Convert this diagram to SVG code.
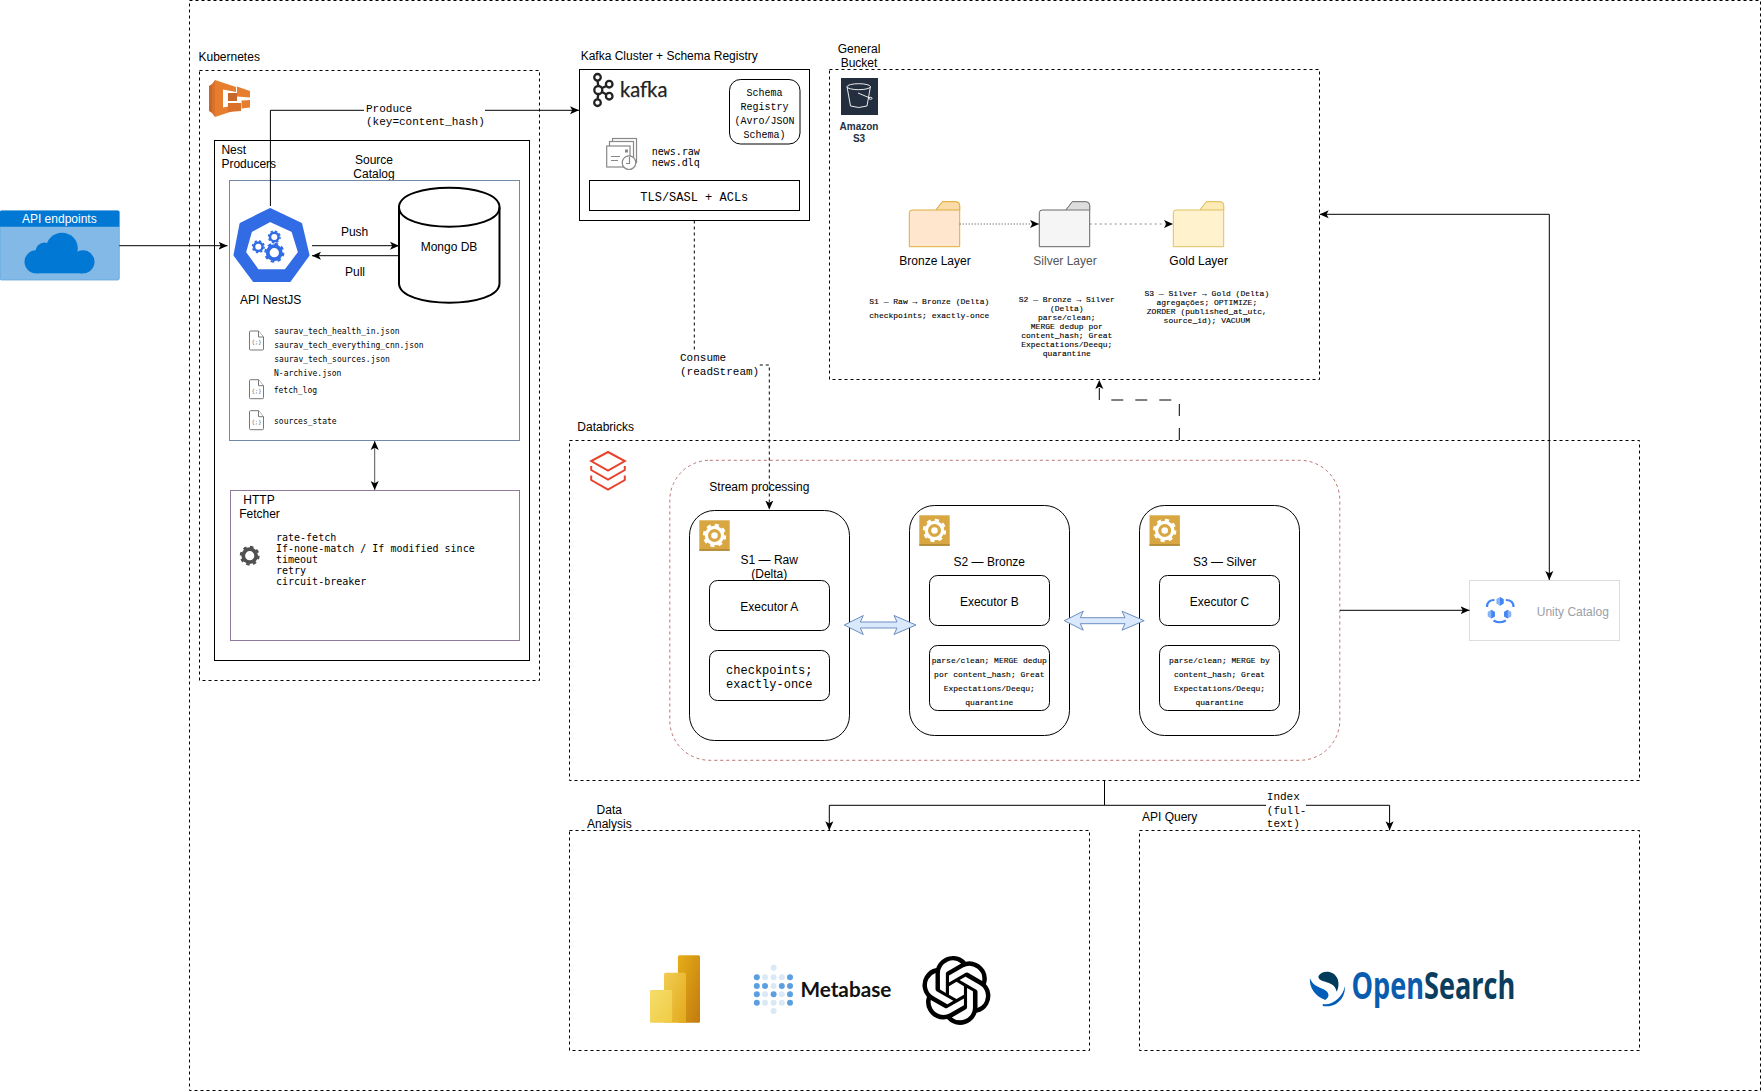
<svg xmlns="http://www.w3.org/2000/svg" xmlns:xlink="http://www.w3.org/1999/xlink" width="1761" height="1091" viewBox="0 0 1761 1091">
<style>
text{fill:#000;font-family:"Liberation Sans",Arial,sans-serif;font-size:12px}
.c{text-anchor:middle}
.m{font-family:"Liberation Mono","Courier New",monospace}
.m8{font-family:"Liberation Mono","Courier New",monospace;font-size:8px;stroke:#000;stroke-width:.12}
.m11{font-family:"Liberation Mono","Courier New",monospace;font-size:11px}
.d8{font-family:"DejaVu Sans Mono",monospace;font-size:8px}
.d10{font-family:"DejaVu Sans Mono",monospace;font-size:10px}
.b{fill:#fff;stroke:#000;stroke-width:1}
.box{fill:none;stroke:#000;stroke-width:1}
.dash{fill:none;stroke:#000;stroke-width:1;stroke-dasharray:3 3}
.l{fill:none;stroke:#000;stroke-width:1}
.la{fill:none;stroke:#000;stroke-width:1;marker-end:url(#a)}
.lb{fill:none;stroke:#000;stroke-width:1;marker-start:url(#as);marker-end:url(#a)}
.flex{fill:#dae8fc;stroke:#6c8ebf;stroke-width:1}
.file{fill:#fff;stroke:#777;stroke-width:1}
.gold{fill:#d9a741}
</style>
<defs>
<marker id="a" viewBox="0 0 10 10" refX="10" refY="5" markerWidth="9" markerHeight="9" markerUnits="userSpaceOnUse" orient="auto"><path d="M0 .5 10 5 0 9.5 2.5 5Z" fill="#000"/></marker>
<marker id="as" viewBox="0 0 10 10" refX="10" refY="5" markerWidth="9" markerHeight="9" markerUnits="userSpaceOnUse" orient="auto-start-reverse"><path d="M0 .5 10 5 0 9.5 2.5 5Z" fill="#000"/></marker>
<linearGradient id="p1" x1="0" x2="1" y1="0" y2="1"><stop offset="0" stop-color="#f5dc6a"/><stop offset="1" stop-color="#f0cc45"/></linearGradient>
<linearGradient id="p2" x1="0" x2="1" y1="0" y2="1"><stop offset="0" stop-color="#f1cd52"/><stop offset="1" stop-color="#e2a91c"/></linearGradient>
<linearGradient id="p3" x1="0" x2="1" y1="0" y2="1"><stop offset="0" stop-color="#e6ae17"/><stop offset="1" stop-color="#c27a10"/></linearGradient>
<g id="gear"><circle r="7.6" fill="none" stroke="currentColor" stroke-width="4.4"/><circle r="10.4" fill="none" stroke="currentColor" stroke-width="2.6" stroke-dasharray="4.08 4.09"/></g>
<g id="goldgear"><rect x="-15.2" y="-15.2" width="30.4" height="30.4" class="gold"/><rect x="-15.2" y="13.8" width="30.4" height="1.4" fill="#a9812f"/><circle r="9.8" fill="#fff"/><circle r="10.4" fill="none" stroke="#fff" stroke-width="2.6" stroke-dasharray="4.08 4.09"/><circle r="4.9" fill="#fff" stroke="#d9a741" stroke-width="3.2"/></g>
<g id="file"><path class="file" d="M1 1H9L14 7V19Q14 20 13 20H1Q0 20 0 19V2Q0 1 1 1Z"/><path class="file" d="M9 1V7H14"/><text x="7" y="14" class="c" style="font-family:'DejaVu Sans Mono',monospace;font-size:5.5px;fill:#666">{;}</text></g>
</defs>
<rect width="1761" height="1091" fill="#fff"/>

<rect id="outer" class="dash" x="189.5" y=".5" width="1571" height="1090"/>

<g id="api-endpoints">
<rect x="0" y="210.7" width="119.3" height="69.3" rx="1.5" fill="#83b9e6" stroke="#5ea6e0" stroke-width=".8"/>
<path d="M0 212Q0 210.7 1.5 210.7H117.8Q119.3 210.7 119.3 212V226.7H0Z" fill="#0078d4"/>
<g fill="#0078d4"><circle cx="36" cy="261.8" r="11.5"/><circle cx="44.5" cy="251.5" r="9"/><circle cx="62" cy="248.5" r="15.8"/><circle cx="83" cy="261.8" r="11.5"/><rect x="36" y="252" width="47" height="21.3"/></g>
<text x="59.3" y="222.8" class="c" style="fill:#fff">API endpoints</text>
</g>

<g id="kubernetes">
<text x="198.5" y="61">Kubernetes</text>
<rect class="dash" x="199.5" y="70.5" width="340" height="610"/>
<g>
<path d="M209 86 212 84V113L209 111Z" fill="#c7682a"/>
<path d="M212 84 215 80V117L212 113Z" fill="#d9702c"/>
<path d="M215 80 236 87V92L223 89.5V107.5L236 105V110L215 117Z" fill="#e67e2e"/>
<path d="M237 86.5 250 91V97.5L237 96.5Z" fill="#e67e2e"/>
<rect x="228" y="93" width="9" height="8" fill="#c7682a"/>
<path d="M228 103H241V111L228 112Z" fill="#d9702c"/>
<path d="M241.5 100.5 250 100V107.5L241.5 108.5Z" fill="#e67e2e"/>
</g>
</g>

<g id="nest-producers">
<rect class="box" x="214.5" y="140.5" width="315" height="520"/>
<text x="221.4" y="154">Nest</text>
<text x="221.4" y="168">Producers</text>
</g>

<g id="source-catalog">
<text x="374" y="164" class="c">Source</text>
<text x="374" y="178" class="c">Catalog</text>
<rect x="229.5" y="180.5" width="290" height="260" fill="none" stroke="#7189a8" stroke-width="1"/>
<use xlink:href="#file" href="#file" x="249.5" y="330"/>
<use xlink:href="#file" href="#file" x="249.5" y="378.7"/>
<use xlink:href="#file" href="#file" x="249.5" y="409.7"/>
<text x="274.3" y="333.5" class="d8">saurav_tech_health_in.json</text>
<text x="274.3" y="347.5" class="d8">saurav_tech_everything_cnn.json</text>
<text x="274.3" y="361.5" class="d8">saurav_tech_sources.json</text>
<text x="274" y="375.5" class="d8">N-archive.json</text>
<text x="273.7" y="392.8" class="d8">fetch_log</text>
<text x="274" y="424" class="d8">sources_state</text>
</g>

<g id="api-nestjs">
<path d="M270.2 209.5 300.7 224 308 255 289.5 280.5H254L235 255 241 224Z" fill="#326ce5" stroke="#326ce5" stroke-width="3" stroke-linejoin="round"/>
<path d="M270.2 223 291 232.5 297 252 284.5 268.5H258.8L247 252 252.5 232.5Z" fill="#fff" stroke="#fff" stroke-width="1.5" stroke-linejoin="round"/>
<g color="#326ce5">
<use xlink:href="#gear" href="#gear" transform="translate(258.3 246.7) scale(.56)"/>
<use xlink:href="#gear" href="#gear" transform="translate(274.3 236.9) scale(.56)"/>
<use xlink:href="#gear" href="#gear" transform="translate(274.3 252.7) scale(.86)"/>
</g>
<text x="270.7" y="304" class="c">API NestJS</text>
</g>

<g id="mongo-db">
<path d="M399 207.2C399 181.2 499.5 181.2 499.5 207.2V283.2C499.5 309.2 399 309.2 399 283.2Z" fill="#fff" stroke="#000" stroke-width="2"/>
<path d="M399 207.2C399 233.2 499.5 233.2 499.5 207.2" fill="none" stroke="#000" stroke-width="2"/>
<text x="449" y="251" class="c">Mongo DB</text>
</g>

<g id="http-fetcher">
<rect x="230.5" y="490.5" width="289" height="150" fill="none" stroke="#8f7a9c" stroke-width="1"/>
<text x="259" y="504" class="c">HTTP</text>
<text x="259.5" y="518" class="c">Fetcher</text>
<g color="#505050"><use xlink:href="#gear" href="#gear" transform="translate(249.7 555.7) scale(.85)"/></g>
<text x="276" y="540.5" class="d10">rate-fetch</text>
<text x="276" y="551.5" class="d10">If-none-match / If modified since</text>
<text x="276" y="562.5" class="d10">timeout</text>
<text x="276" y="573.5" class="d10">retry</text>
<text x="276" y="584.5" class="d10">circuit-breaker</text>
</g>

<g id="kafka-cluster">
<text x="580.7" y="60">Kafka Cluster + Schema Registry</text>
<rect class="box" x="579.5" y="69.5" width="230" height="151"/>
<g fill="none" stroke="#222" stroke-width="2.3">
<path d="M597.5 80.5 598.3 86M597.5 99.5 598.3 94M602 88 606.5 86M602 92 606.5 94.5"/>
<circle cx="597.5" cy="77.3" r="3.3"/><circle cx="598.3" cy="90" r="4"/><circle cx="597.5" cy="102.7" r="3.3"/><circle cx="609.2" cy="84.2" r="3.3"/><circle cx="609.2" cy="96.2" r="3.3"/>
</g>
<text x="620" y="96.5" textLength="47.5" lengthAdjust="spacingAndGlyphs" style="font-family:Lato,'Noto Sans',sans-serif;font-size:21.5px;fill:#222;stroke:#222;stroke-width:.25">kafka</text>
<g fill="#fff" stroke="#888" stroke-width="1.2">
<rect x="612.5" y="138.5" width="24" height="24"/><rect x="609.5" y="141.5" width="24" height="24"/><rect x="606.7" y="146" width="23.3" height="21"/>
<path d="M611 156.5H620M611 160.5H618" fill="none"/><rect x="625" y="149.5" width="3" height="3" fill="#888" stroke="none"/>
<circle cx="629" cy="162.7" r="6.8"/><path d="M629.5 157V163.5H626" fill="none"/>
</g>
<text x="651.7" y="155" class="d10">news.raw</text>
<text x="651.7" y="166" class="d10">news.dlq</text>
<rect class="b" x="729.5" y="79.5" width="70.5" height="64.5" rx="11"/>
<text x="764.5" y="95.5" class="c m" style="font-size:10px">Schema</text>
<text x="764.5" y="109.5" class="c m" style="font-size:10px">Registry</text>
<text x="764.5" y="123.5" class="c m" style="font-size:10px">(Avro/JSON</text>
<text x="764.5" y="137.5" class="c m" style="font-size:10px">Schema)</text>
<rect class="b" x="589.5" y="180.5" width="210" height="30"/>
<text x="694.3" y="201" class="c m">TLS/SASL + ACLs</text>
</g>

<g id="general-bucket">
<text x="859" y="53" class="c">General</text>
<text x="859" y="67" class="c">Bucket</text>
<rect class="dash" x="829.5" y="69.5" width="490" height="310"/>
<rect x="841" y="78" width="37" height="37" fill="#232f3e"/>
<g fill="none" stroke="#fff" stroke-width=".9"><ellipse cx="858.7" cy="86.7" rx="11.7" ry="3"/><path d="M847 86.7 850.5 106Q858.7 109 867 106L870.4 86.7"/><path d="M858 93 870 98"/><ellipse cx="870.5" cy="98.3" rx="1.6" ry="1"/></g>
<text x="859" y="130" class="c" style="font-size:10px;font-weight:700;fill:#232f3e">Amazon</text>
<text x="859" y="142" class="c" style="font-size:10px;font-weight:700;fill:#232f3e">S3</text>
</g>

<g id="bronze-layer">
<path transform="translate(909.3 201.7)" d="M0 11Q0 8.3 3 8.3H26.7L33 0H46.5Q50.4 0 50.4 4V45H0Z" fill="#ffe6cc" stroke="#dcae3c" stroke-width="1"/>
<path transform="translate(909.3 201.7)" d="M26.7 8.3H50.4V4Q50.4 0 46.5 0H33Z" fill="#fbdca8" stroke="#dcae3c" stroke-width="1"/>
<text x="935" y="264.7" class="c">Bronze Layer</text>
<text x="929.3" y="303.8" class="c m8">S1 — Raw → Bronze (Delta)</text>
<text x="929.3" y="317.8" class="c m8">checkpoints; exactly-once</text>
</g>

<g id="silver-layer">
<path transform="translate(1039.3 201.7)" d="M0 11Q0 8.3 3 8.3H26.7L33 0H46.5Q50.4 0 50.4 4V45H0Z" fill="#f5f5f5" stroke="#666" stroke-width="1"/>
<path transform="translate(1039.3 201.7)" d="M26.7 8.3H50.4V4Q50.4 0 46.5 0H33Z" fill="#ddd" stroke="#777" stroke-width="1"/>
<text x="1065" y="264.7" class="c" style="fill:#555">Silver Layer</text>
<text x="1066.8" y="301.5" class="c m8">S2 — Bronze → Silver</text>
<text x="1066.8" y="310.5" class="c m8">(Delta)</text>
<text x="1066.8" y="319.5" class="c m8">parse/clean;</text>
<text x="1066.8" y="328.5" class="c m8">MERGE dedup por</text>
<text x="1066.8" y="337.5" class="c m8">content_hash; Great</text>
<text x="1066.8" y="346.5" class="c m8">Expectations/Deequ;</text>
<text x="1066.8" y="355.5" class="c m8">quarantine</text>
</g>

<g id="gold-layer">
<path transform="translate(1173.3 201.7)" d="M0 11Q0 8.3 3 8.3H26.7L33 0H46.5Q50.4 0 50.4 4V45H0Z" fill="#fff2cc" stroke="#e0c060" stroke-width="1"/>
<path transform="translate(1173.3 201.7)" d="M26.7 8.3H50.4V4Q50.4 0 46.5 0H33Z" fill="#fdeab4" stroke="#e0c060" stroke-width="1"/>
<text x="1198.7" y="264.7" class="c">Gold Layer</text>
<text x="1206.8" y="296" class="c m8">S3 — Silver → Gold (Delta)</text>
<text x="1206.8" y="305" class="c m8">agregações; OPTIMIZE;</text>
<text x="1206.8" y="314" class="c m8">ZORDER (published_at_utc,</text>
<text x="1206.8" y="323" class="c m8">source_id); VACUUM</text>
</g>

<g id="databricks">
<text x="577.3" y="431">Databricks</text>
<rect class="dash" x="569.5" y="440.5" width="1070" height="340"/>
<g fill="none" stroke="#e8432e" stroke-width="2"><path d="M608 452 624.8 461 608 470.5 591.2 461Z"/><path d="M591.2 466V470L608 479.5 624.8 470V466"/><path d="M591.2 475.5V480L608 489.5 624.8 480V475.5"/></g>
</g>

<g id="stream-processing">
<rect x="669.8" y="460.3" width="670" height="300" rx="40" fill="none" stroke="#a5504c" stroke-width=".8" stroke-dasharray="3 3"/>
<text x="709.3" y="491">Stream processing</text>
</g>

<g id="s1-raw">
<rect class="box" x="689.5" y="510.5" width="160" height="230" rx="25"/>
<use xlink:href="#goldgear" href="#goldgear" x="714.5" y="535.5"/>
<text x="769.3" y="564" class="c">S1 — Raw</text>
<text x="769.3" y="578" class="c">(Delta)</text>
<rect class="b" x="709.5" y="580.5" width="120" height="50" rx="8"/>
<text x="769.3" y="610.5" class="c">Executor A</text>
<rect class="b" x="709.5" y="650.5" width="120" height="50" rx="8"/>
<text x="769.3" y="674" class="c m">checkpoints;</text>
<text x="769.3" y="688" class="c m">exactly-once</text>
</g>

<g id="s2-bronze">
<rect class="box" x="909.5" y="505.5" width="160" height="230" rx="25"/>
<use xlink:href="#goldgear" href="#goldgear" x="934.5" y="530.5"/>
<text x="989.3" y="565.5" class="c">S2 — Bronze</text>
<rect class="b" x="929.5" y="575.5" width="120" height="50" rx="8"/>
<text x="989.3" y="605.5" class="c">Executor B</text>
<rect class="b" x="929.5" y="645.5" width="120" height="65" rx="8"/>
<text x="989.3" y="662.5" class="c m8">parse/clean; MERGE dedup</text>
<text x="989.3" y="676.5" class="c m8">por content_hash; Great</text>
<text x="989.3" y="690.5" class="c m8">Expectations/Deequ;</text>
<text x="989.3" y="704.5" class="c m8">quarantine</text>
</g>

<g id="s3-silver">
<rect class="box" x="1139.5" y="505.5" width="160" height="230" rx="25"/>
<use xlink:href="#goldgear" href="#goldgear" x="1164.7" y="530.5"/>
<text x="1224.6" y="565.5" class="c">S3 — Silver</text>
<rect class="b" x="1159.5" y="575.5" width="120" height="50" rx="8"/>
<text x="1219.5" y="605.5" class="c">Executor C</text>
<rect class="b" x="1159.5" y="645.5" width="120" height="65" rx="8"/>
<text x="1219.5" y="662.5" class="c m8">parse/clean; MERGE by</text>
<text x="1219.5" y="676.5" class="c m8">content_hash; Great</text>
<text x="1219.5" y="690.5" class="c m8">Expectations/Deequ;</text>
<text x="1219.5" y="704.5" class="c m8">quarantine</text>
</g>

<g id="unity-catalog">
<rect x="1469.5" y="580.5" width="150" height="60" fill="#fff" stroke="#ddd" stroke-width="1"/>
<g fill="none" stroke="#4285f4" stroke-width="2.2"><path d="M1487 607Q1487 600 1494.5 600"/><path d="M1505.8 600Q1513.5 600 1513.5 607"/><path d="M1493.5 620.5Q1499.5 624 1505.8 620.5"/></g>
<g fill="#8ab4f8"><path d="M1500 597 1503.6 599.2V603.6L1500 605.8 1496.4 603.6V599.2Z"/><path d="M1491.3 609.8 1494.9 612V616.4L1491.3 618.6 1487.7 616.4V612Z"/><path d="M1507.7 609.8 1511.3 612V616.4L1507.7 618.6 1504.1 616.4V612Z"/></g>
<g fill="#4285f4"><path d="M1500 597 1503.6 599.2V603.6L1500 605.8Z"/><path d="M1491.3 609.8 1494.9 612V616.4L1491.3 618.6Z"/><path d="M1507.7 609.8V618.6L1504.1 616.4V612Z"/></g>
<text x="1572.8" y="616" class="c" style="fill:#9aa0a6">Unity Catalog</text>
</g>

<g id="data-analysis">
<text x="609.3" y="814" class="c">Data</text>
<text x="609.3" y="828" class="c">Analysis</text>
<rect class="dash" x="569.5" y="830.5" width="520" height="220"/>
<rect x="677.9" y="955.3" width="22.1" height="67.4" rx="1.5" fill="url(#p3)"/>
<rect x="664" y="972.7" width="22" height="50" rx="1.5" fill="url(#p2)"/>
<rect x="650" y="990" width="22.1" height="32.7" rx="1" fill="url(#p1)"/>
<g fill="#5b9fdf">
<circle cx="756.8" cy="977.3" r="3"/><circle cx="790" cy="977.3" r="3"/>
<circle cx="756.8" cy="986" r="3"/><circle cx="765" cy="986" r="3"/><circle cx="781.8" cy="986" r="3"/><circle cx="790" cy="986" r="3"/>
<circle cx="756.8" cy="994.3" r="3"/><circle cx="773.6" cy="994.3" r="3"/><circle cx="790" cy="994.3" r="3"/>
<circle cx="756.8" cy="1002.7" r="3"/><circle cx="790" cy="1002.7" r="3"/>
</g>
<g fill="#dbe8f6">
<circle cx="773.6" cy="967.7" r="3"/>
<circle cx="765" cy="977.3" r="3"/><circle cx="773.6" cy="977.3" r="3"/><circle cx="781.8" cy="977.3" r="3"/>
<circle cx="773.6" cy="986" r="3"/>
<circle cx="765" cy="994.3" r="3"/><circle cx="781.8" cy="994.3" r="3"/>
<circle cx="765" cy="1002.7" r="3"/><circle cx="773.6" cy="1002.7" r="3"/><circle cx="781.8" cy="1002.7" r="3"/>
<circle cx="773.6" cy="1011" r="3"/>
</g>
<text x="800.4" y="997" textLength="91" lengthAdjust="spacingAndGlyphs" style="font-family:Lato,'Noto Sans',sans-serif;font-size:21px;font-weight:700;fill:#111">Metabase</text>
<path transform="translate(922 956) scale(2.87)" d="M22.2819 9.8211a5.9847 5.9847 0 0 0-.5157-4.9108 6.0462 6.0462 0 0 0-6.5098-2.9A6.0651 6.0651 0 0 0 4.9807 4.1818a5.9847 5.9847 0 0 0-3.9977 2.9 6.0462 6.0462 0 0 0 .7427 7.0966 5.98 5.98 0 0 0 .511 4.9107 6.051 6.051 0 0 0 6.5146 2.9001A5.9847 5.9847 0 0 0 13.2599 24a6.0557 6.0557 0 0 0 5.7718-4.2058 5.9894 5.9894 0 0 0 3.9977-2.9001 6.0557 6.0557 0 0 0-.7475-7.0729zm-9.022 12.6081a4.4755 4.4755 0 0 1-2.8764-1.0408l.1419-.0804 4.7783-2.7582a.7948.7948 0 0 0 .3927-.6813v-6.7369l2.02 1.1686a.071.071 0 0 1 .038.052v5.5826a4.504 4.504 0 0 1-4.4945 4.4944zm-9.6607-4.1254a4.4708 4.4708 0 0 1-.5346-3.0137l.142.0852 4.783 2.7582a.7712.7712 0 0 0 .7806 0l5.8428-3.3685v2.3324a.0804.0804 0 0 1-.0332.0615L9.74 19.9502a4.4992 4.4992 0 0 1-6.1408-1.6464zM2.3408 7.8956a4.485 4.485 0 0 1 2.3655-1.9728V11.6a.7664.7664 0 0 0 .3879.6765l5.8144 3.3543-2.0201 1.1685a.0757.0757 0 0 1-.071 0l-4.8303-2.7865A4.504 4.504 0 0 1 2.3408 7.872zm16.5963 3.8558L13.1038 8.364 15.1192 7.2a.0757.0757 0 0 1 .071 0l4.8303 2.7913a4.4944 4.4944 0 0 1-.6765 8.1042v-5.6772a.79.79 0 0 0-.407-.667zm2.0107-3.0231l-.142-.0852-4.7735-2.7818a.7759.7759 0 0 0-.7854 0L9.409 9.2297V6.8974a.0662.0662 0 0 1 .0284-.0615l4.8303-2.7866a4.4992 4.4992 0 0 1 6.6802 4.66zM8.3065 12.863l-2.02-1.1638a.0804.0804 0 0 1-.038-.0567V6.0742a4.4992 4.4992 0 0 1 7.3757-3.4537l-.142.0805L8.704 5.459a.7948.7948 0 0 0-.3927.6813zm1.0976-2.3654l2.602-1.4998 2.6069 1.4998v2.9994l-2.5974 1.4997-2.6067-1.4997Z" fill="#000"/>
</g>

<g id="api-query">
<text x="1142" y="820.8">API Query</text>
<rect class="dash" x="1139.5" y="830.5" width="500" height="220"/>
<g transform="translate(1120 770) scale(.357 .3333)">
<path d="M556 618C566 600 600 600 610 628 614 642 612 655 607 665 603 645 590 640 575 635 562 631 555 628 556 618Z" fill="#003b5c"/>
<path d="M532 625C530 650 545 680 575 690 590 680 585 665 570 658 552 650 540 645 532 625Z" fill="#005eb8"/>
<path d="M568 702C595 708 625 680 630 648 632 690 600 715 568 708Z" fill="#005eb8"/>
</g>
<text x="1351.4" y="999" textLength="164" lengthAdjust="spacingAndGlyphs" style="font-family:'Open Sans',sans-serif;font-size:38px;font-weight:700"><tspan style="fill:#0a5cae">Open</tspan><tspan style="fill:#0b3d5e">Search</tspan></text>
</g>

<g id="connectors">
<path class="la" d="M119.3 245.7H227.5"/>
<path class="la" d="M312 245.7H399"/>
<path class="la" d="M399 255.7H312"/>
<text x="354.6" y="236" class="c">Push</text>
<text x="355" y="276" class="c">Pull</text>
<path class="la" d="M270.4 206V110.3H579"/>
<rect x="364" y="101" width="121" height="26" fill="#fff"/>
<text x="366" y="111.5" class="m11">Produce</text>
<text x="366" y="124.5" class="m11">(key=content_hash)</text>
<path d="M374.7 441V490" fill="none" stroke="#555" stroke-width="1" marker-start="url(#as)" marker-end="url(#a)"/>
<path class="la" style="stroke-dasharray:3 3" d="M694.3 220.5V365H769.3V509.5"/>
<rect x="679" y="351" width="80" height="28" fill="#fff"/>
<text x="680" y="361" class="m11">Consume</text>
<text x="680" y="374.5" class="m11">(readStream)</text>
<path d="M959.7 224H1039" fill="none" stroke="#444" stroke-width="1" stroke-dasharray="1 2" marker-end="url(#a)"/>
<path d="M1089.7 224H1173" fill="none" stroke="#888" stroke-width="1" stroke-dasharray="2 3" marker-end="url(#a)"/>
<path class="la" style="stroke-dasharray:12 12" d="M1179.3 440V400H1099.3V380"/>
<polygon class="flex" points="844.3,625 863.3,615.5 860.3,622 897,622 894,615.5 916,625 894,634.5 897,628 860.3,628 863.3,634.5"/>
<polygon class="flex" points="1064.3,620.7 1083.3,611.2 1080.3,617.7 1125,617.7 1122,611.2 1144.2,620.7 1122,630.2 1125,623.7 1080.3,623.7 1083.3,630.2"/>
<path class="la" d="M1340 610.3H1469.5"/>
<path class="lb" d="M1319.7 214.3H1549.3V580"/>
<path class="la" d="M1104.5 780.5V805.3H829.3V830.3"/>
<path class="la" d="M1104.5 805.3H1389.6V830.3"/>
<rect x="1266" y="790" width="40" height="38" fill="#fff"/>
<text x="1266.8" y="800" class="m11">Index</text>
<text x="1266.8" y="813.5" class="m11">(full-</text>
<text x="1266.8" y="827" class="m11">text)</text>
</g>
</svg>
